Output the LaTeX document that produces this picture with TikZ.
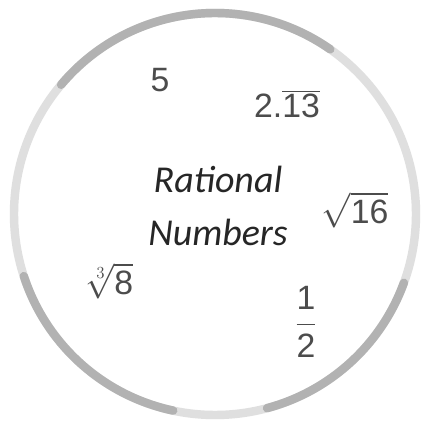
\documentclass[tikz,border=0pt]{standalone}
\usepackage{fontspec}
\setmainfont{Liberation Sans}
\newfontfamily\labelfont{Carlito}
\usetikzlibrary{positioning}

\tikzset{
  ring/.style={line width=6pt,gray!25,line cap=round},
  ringdark/.style={line width=6pt,gray!60,line cap=round},
  member/.style={text=gray!60!black,font=\fontsize{24}{26}\selectfont,inner sep=0pt},
  title/.style={text=black!85,font=\labelfont\itshape\fontsize{27}{37.5}\selectfont,align=center,inner sep=0pt}
}

\begin{document}
\begin{tikzpicture}[x=0.025cm,y=-0.025cm]
\useasboundingbox (0,0) rectangle (429,427);
\fill[white] (0,0) rectangle (429,427);
% the set
\coordinate (c) at (215,214);
\draw[ring] (c) circle (201);
\draw[ringdark] ([shift={(220:201)}]c) arc (220:305:201);
\draw[ringdark] ([shift={(102:201)}]c) arc (102:162:201);
\draw[ringdark] ([shift={(20:201)}]c) arc (20:75:201);
% label
\node[title] (name) at (218,206) {Rational\\Numbers};
% members
\node[member] (five) at (160,80) {5};
\node[member] (rep) at (287,104) {2.$\overline{\mbox{13}}$};
\node[member] (root) at (355,210) {$\sqrt{\mbox{16}}$};
\node[member] (cube) at (110,281) {$\sqrt[3]{\mbox{8}}$};
\node[member] (half) at (306,322) {$\displaystyle\frac{\mbox{1}}{\mbox{2}}$};
\end{tikzpicture}
\end{document}
